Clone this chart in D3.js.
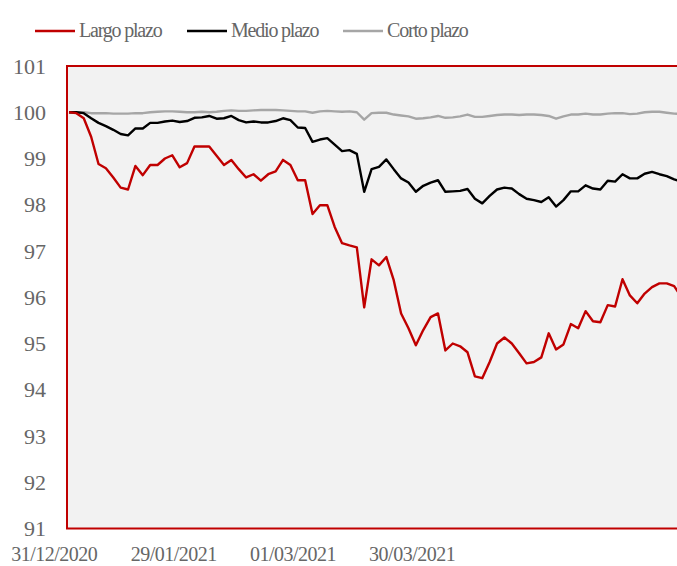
<!DOCTYPE html>
<html>
<head>
<meta charset="utf-8">
<script src="https://cdn.jsdelivr.net/npm/d3@7"></script>
<style>
  body { margin: 0; background: #fff; }
  text { font-family: "Liberation Serif", "DejaVu Serif", serif; fill: #666; }
</style>
</head>
<body>
<div id="root"></div>
<script>
// series, one value per trading session
var largo = [100.0, 99.98, 99.87, 99.47, 98.88, 98.79, 98.59, 98.37, 98.33, 98.84,
  98.64, 98.86, 98.86, 99.0, 99.07, 98.81, 98.9, 99.26, 99.26, 99.26,
  99.06, 98.86, 98.97, 98.77, 98.59, 98.66, 98.52, 98.66, 98.72, 98.97,
  98.86, 98.53, 98.53, 97.8, 97.99, 97.99, 97.52, 97.17, 97.12, 97.08,
  95.78, 96.82, 96.69, 96.87, 96.37, 95.65, 95.33, 94.96, 95.29, 95.57,
  95.65, 94.85, 95.0, 94.94, 94.81, 94.29, 94.25, 94.6, 95.0, 95.13,
  95.0, 94.79, 94.57, 94.6, 94.7, 95.22, 94.87, 94.98, 95.42, 95.33,
  95.7, 95.48, 95.46, 95.83, 95.8, 96.39, 96.04, 95.87, 96.08, 96.22,
  96.3, 96.3, 96.24, 96.0];
var medio = [100.0, 100.0, 99.98, 99.87, 99.77, 99.7, 99.62, 99.53, 99.5, 99.65,
  99.65, 99.77, 99.77, 99.8, 99.82, 99.79, 99.81, 99.88, 99.89, 99.92,
  99.86, 99.87, 99.92, 99.83, 99.78, 99.8, 99.78, 99.78, 99.81, 99.87,
  99.83, 99.67, 99.66, 99.36, 99.41, 99.44, 99.3, 99.16, 99.18, 99.1,
  98.28, 98.77, 98.82, 98.98, 98.77, 98.57, 98.48, 98.28, 98.41, 98.48,
  98.53, 98.28, 98.29, 98.3, 98.34, 98.13, 98.03, 98.19, 98.33, 98.37,
  98.35, 98.23, 98.13, 98.1, 98.06, 98.16, 97.96, 98.1, 98.29, 98.29,
  98.42, 98.35, 98.33, 98.52, 98.5, 98.66, 98.57, 98.57, 98.67, 98.71,
  98.66, 98.62, 98.55, 98.5];
var corto = [100.0, 100.0, 100.0, 99.98, 99.98, 99.98, 99.97, 99.97, 99.97, 99.98,
  99.98, 100.0, 100.01, 100.02, 100.02, 100.01, 100.0, 100.0, 100.01, 100.0,
  100.01, 100.03, 100.04, 100.03, 100.03, 100.04, 100.05, 100.05, 100.05, 100.04,
  100.03, 100.02, 100.02, 99.99, 100.02, 100.03, 100.02, 100.01, 100.02, 100.0,
  99.84, 99.98, 99.99, 99.99, 99.95, 99.93, 99.91, 99.86, 99.87, 99.89,
  99.92, 99.88, 99.89, 99.91, 99.95, 99.9, 99.9, 99.92, 99.94, 99.95,
  99.95, 99.94, 99.95, 99.95, 99.94, 99.92, 99.86, 99.91, 99.95, 99.95,
  99.97, 99.95, 99.95, 99.97, 99.98, 99.98, 99.96, 99.97, 100.0, 100.01,
  100.01, 99.99, 99.97, 99.96];

var seriesNames = ["Largo plazo", "Medio plazo", "Corto plazo"];
var seriesColors = ["#c00000", "#000000", "#a6a6a6"];
var tickLabels = ["31/12/2020", "29/01/2021", "01/03/2021", "30/03/2021"];
var tickAt = [-2.0, 14.2, 30.35, 46.5]; // label centres, in session units
var yTicks = d3.range(91, 102);

var width = 677, height = 566,
    margin = {top: 66, right: -30, bottom: 37, left: 67};

var svg = d3.select("#root").append("svg")
    .attr("width", width)
    .attr("height", height);

var x = d3.scaleLinear()
    .domain([0, largo.length - 1])
    .range([margin.left + 2, margin.left + 2 + 7.38 * (largo.length - 1)]);
var y = d3.scaleLinear()
    .domain([91, 101])
    .range([height - margin.bottom - 0.5, margin.top]);

var plotRight = width - margin.right;

svg.append("defs").append("clipPath").attr("id", "clip")
  .append("rect")
    .attr("x", margin.left)
    .attr("y", margin.top)
    .attr("width", plotRight - margin.left)
    .attr("height", y(91) - margin.top);

// plot background
svg.append("rect")
    .attr("x", margin.left)
    .attr("y", margin.top)
    .attr("width", plotRight - margin.left)
    .attr("height", y(91) - margin.top)
    .style("fill", "#f2f2f2")
    .style("stroke", "none");

var line = d3.line()
    .x(function (d, i) { return x(i); })
    .y(function (d) { return y(d); });

var g = svg.append("g").attr("clip-path", "url(#clip)");
[corto, medio, largo].forEach(function (s, k) {
  var idx = 2 - k;
  g.append("path")
      .datum(s)
      .attr("d", line)
      .style("fill", "none")
      .style("stroke", seriesColors[idx])
      .style("stroke-width", 2.4)
      .style("stroke-linejoin", "round");
});

// red border of the plot area
svg.append("rect")
    .attr("x", margin.left)
    .attr("y", margin.top)
    .attr("width", plotRight - margin.left)
    .attr("height", y(91) - margin.top)
    .style("fill", "none")
    .style("stroke", "#c00000")
    .style("stroke-width", 2);

// y labels
svg.selectAll(".ylab")
  .data(yTicks)
  .enter().append("text")
    .attr("class", "ylab")
    .attr("x", 46)
    .attr("y", function (d) { return y(d); })
    .attr("dy", "0.35em")
    .attr("text-anchor", "end")
    .style("font-size", "22px")
    .text(function (d) { return d; });

// x labels
svg.selectAll(".xlab")
  .data(tickLabels)
  .enter().append("text")
    .attr("class", "xlab")
    .attr("x", function (d, i) { return x(tickAt[i]); })
    .attr("y", 561)
    .attr("text-anchor", "middle")
    .style("font-size", "20px")
    .style("letter-spacing", "-0.5px")
    .text(function (d) { return d; });

// legend
var legX = [35, 187, 343];
var leg = svg.selectAll(".leg")
  .data(seriesNames)
  .enter().append("g")
    .attr("class", "leg")
    .attr("transform", function (d, i) { return "translate(" + legX[i] + ",31)"; });
leg.append("line")
    .attr("x1", 0).attr("x2", 40)
    .style("stroke", function (d, i) { return seriesColors[i]; })
    .style("stroke-width", 2.5);
leg.append("text")
    .attr("x", 44)
    .attr("y", 6)
    .style("font-size", "20px")
    .style("letter-spacing", "-1.2px")
    .text(function (d) { return d; });
</script>
</body>
</html>
